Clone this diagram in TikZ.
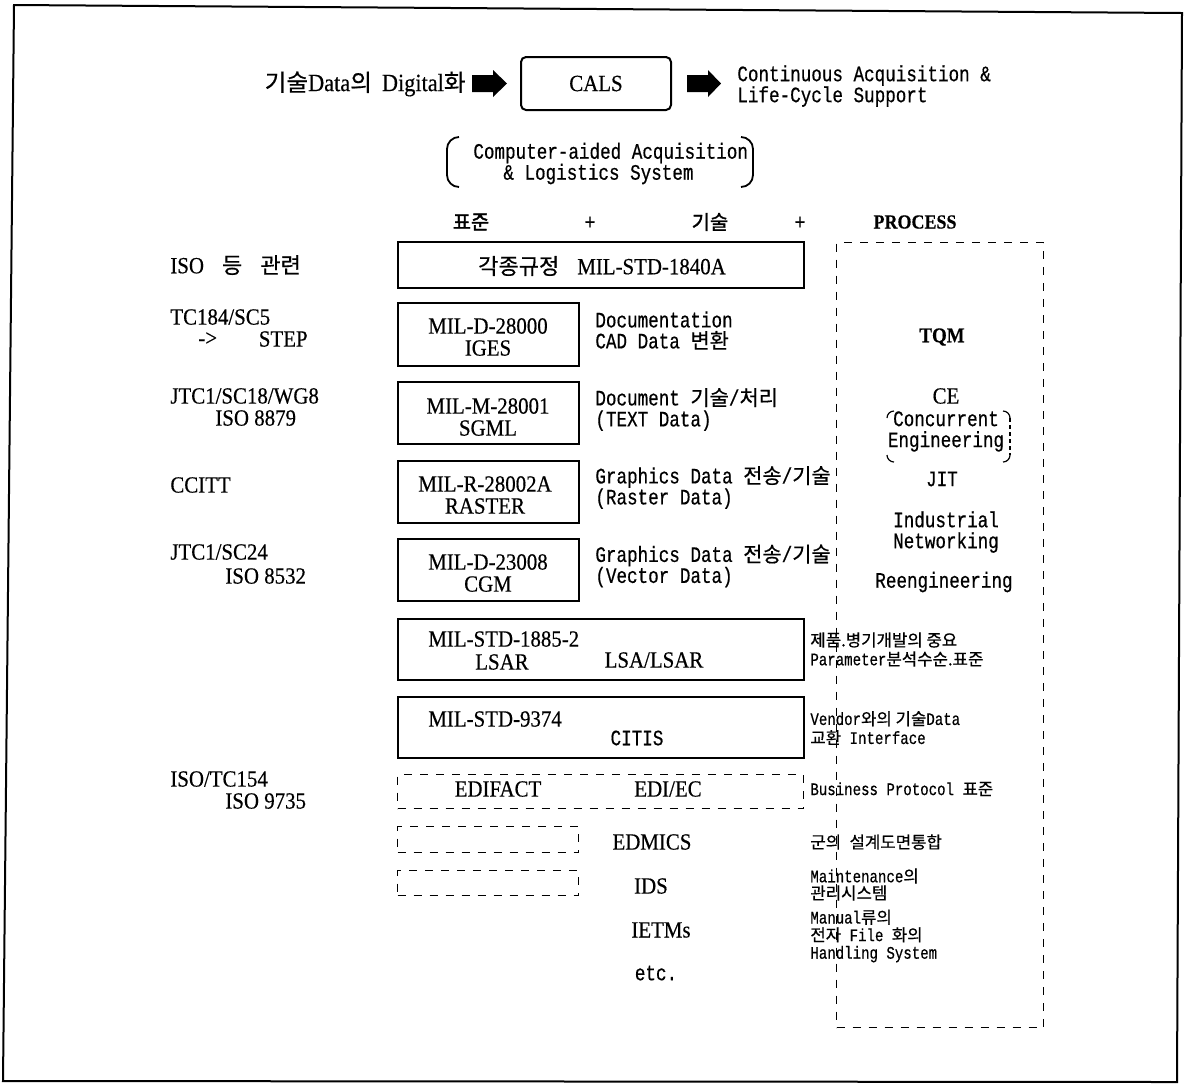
\documentclass[tikz,border=0pt]{standalone}
\usepackage{fontspec}
\setmainfont{Liberation Mono}[FakeStretch=0.8,FakeBold=0.5]
\newfontfamily\condf{Liberation Serif}[FakeStretch=0.9,FakeBold=0.4]
\newfontfamily\krfont{Noto Sans CJK KR}[Scale=0.95,FakeBold=0.6]
\newfontfamily\krbfont{Noto Sans CJK KR}[Scale=0.9,FakeBold=2]
\newcommand\krt[1]{{\krfont #1}}
\newcommand\krbt[1]{{\krbfont #1}}
\newcommand\kgap{\hspace{9pt}}
\begin{document}
\begin{tikzpicture}[x=0.5pt,y=-0.5pt,
  tw/.style={inner sep=0pt, font=\fontsize{11}{10.5}\selectfont},
  cn/.style={inner sep=0pt, font=\condf\fontsize{11.6}{11}\selectfont},
  sm/.style={inner sep=0pt, anchor=west, align=left, font=\fontsize{8.8}{9.5}\selectfont},
  framebox/.style={draw, line width=1pt, inner sep=0pt, anchor=north west},
  dbox/.style={draw, line width=0.7pt, dash pattern=on 4pt off 4pt, inner sep=0pt, anchor=north west},
  blockarrow/.style={fill=black},
  bracket/.style={line width=0.9pt}]
\useasboundingbox (0,0) rectangle (1189,1084);
% outer frame
\coordinate (f1) at (14,5);
\coordinate (f2) at (1182,13);
\coordinate (f3) at (1177,1082);
\coordinate (f4) at (3,1081);
\draw[line width=1pt] (f1) -- (f2) -- (f3) -- (f4) -- cycle;

% top row
\node[cn, anchor=east, font=\condf\fontsize{12.4}{12}\selectfont] (digital) at (466,84) {\krt{기술}Data\krt{의}\hspace{5pt}Digital\krt{화}};
\fill[blockarrow] (472,75) -- (493,75) -- (493,70) -- (507,83.5) -- (493,97) -- (493,92) -- (472,92) -- cycle;
\node[draw, line width=1pt, rounded corners=2.5pt, minimum width=75pt, minimum height=26.5pt, inner sep=0pt, cn] (cals) at (596,83.5) {CALS};
\fill[blockarrow] (687,75) -- (708,75) -- (708,70) -- (721,83.5) -- (708,97) -- (708,92) -- (687,92) -- cycle;
\node[tw, anchor=west, align=left] (cont) at (737,86) {Continuous Acquisition \&\\Life-Cycle Support};

% computer-aided
\node[tw, anchor=west] (comp1) at (473,153) {Computer-aided Acquisition};
\node[tw, anchor=west] (comp2) at (503,174) {\& Logistics System};
\draw[bracket] (459,137) to[out=180,in=90] (447,149) -- (447,175) to[out=270,in=180] (459,187);
\draw[bracket] (741,137) to[out=0,in=90] (753,149) -- (753,175) to[out=270,in=0] (741,187);

% headers
\node[inner sep=0pt, font=\fontsize{11}{11}\selectfont] (hstd) at (471,222) {\krbt{표준}};
\node[tw] (hplus1) at (590,223) {+};
\node[inner sep=0pt, font=\fontsize{11}{11}\selectfont] (htech) at (710,222) {\krbt{기술}};
\node[tw] (hplus2) at (800,223) {+};
\node[cn, font=\condf\bfseries\fontsize{10}{10}\selectfont] (hproc) at (915,222) {PROCESS};

% left column
\node[cn, anchor=west] (l1) at (170,265) {ISO\kgap\krt{등}\kgap\krt{관련}};
\node[cn, anchor=west] (l2a) at (170,317) {TC184/SC5};
\node[cn, anchor=west] (l2b) at (198,339) {->};
\node[cn, anchor=east] (l2c) at (308,339) {STEP};
\node[cn, anchor=west] (l3a) at (170,396) {JTC1/SC18/WG8};
\node[cn, anchor=west] (l3b) at (215,418) {ISO 8879};
\node[cn, anchor=west] (l4) at (170,485) {CCITT};
\node[cn, anchor=west] (l5a) at (170,552) {JTC1/SC24};
\node[cn, anchor=west] (l5b) at (225,576) {ISO 8532};
\node[cn, anchor=west] (l6a) at (170,779) {ISO/TC154};
\node[cn, anchor=west] (l6b) at (225,801) {ISO 9735};

% boxes
\node[framebox, minimum width=203pt, minimum height=23pt] (bA) at (397,241) {};
\node[cn] (tA) at (602,266) {\krt{각종규정}\kgap MIL-STD-1840A};
\node[framebox, minimum width=90.5pt, minimum height=31.5pt] (bB) at (397,302) {};
\node[cn, align=center] (tB) at (488,337) {MIL-D-28000\\IGES};
\node[framebox, minimum width=90.5pt, minimum height=31pt] (bC) at (397,381) {};
\node[cn, align=center] (tC) at (488,417) {MIL-M-28001\\SGML};
\node[framebox, minimum width=90.5pt, minimum height=31pt] (bD) at (397,460) {};
\node[cn, align=center] (tD) at (485,495) {MIL-R-28002A\\RASTER};
\node[framebox, minimum width=90.5pt, minimum height=31pt] (bE) at (397,538) {};
\node[cn, align=center] (tE) at (488,573) {MIL-D-23008\\CGM};
\node[framebox, minimum width=203pt, minimum height=30.5pt] (bF) at (397,618) {};
\node[cn, anchor=west] (tF1) at (428,639) {MIL-STD-1885-2};
\node[cn] (tF2) at (502,662) {LSAR};
\node[cn] (tF3) at (654,660) {LSA/LSAR};
\node[framebox, minimum width=203pt, minimum height=30.5pt] (bG) at (397,696) {};
\node[cn, anchor=west] (tG1) at (428,719) {MIL-STD-9374};
\node[tw] (tG2) at (637,738) {CITIS};
\node[dbox, minimum width=203pt, minimum height=17pt] (bH) at (397,774) {};
\node[cn] (tH1) at (498,789) {EDIFACT};
\node[cn] (tH2) at (668,789) {EDI/EC};
\node[dbox, minimum width=90.5pt, minimum height=13pt] (bI) at (397,826) {};
\node[dbox, minimum width=90.5pt, minimum height=12.5pt] (bJ) at (397,870) {};
\node[cn] (tI) at (652,842) {EDMICS};
\node[cn] (tJ) at (651,886) {IDS};
\node[cn] (tK) at (661,930) {IETMs};
\node[tw] (tL) at (656,973) {etc.};

% descriptions next to small boxes
\node[tw, anchor=west, align=left] (dB) at (595,330.5) {Documentation\\CAD Data \krt{변환}};
\node[tw, anchor=west, align=left] (dC) at (595,409.5) {Document \krt{기술}/\krt{처리}\\(TEXT Data)};
\node[tw, anchor=west, align=left] (dD) at (595,487.5) {Graphics Data \krt{전송}/\krt{기술}\\(Raster Data)};
\node[tw, anchor=west, align=left] (dE) at (595,566) {Graphics Data \krt{전송}/\krt{기술}\\(Vector Data)};

% right small descriptions
\node[sm] (rF) at (810,649.5) {\krt{제품.병기개발의 중요}\\Parameter\krt{분석수순.표준}};
\node[sm] (rG) at (810,728) {Vendor\krt{와의 기술}Data\\\krt{교환} Interface};
\node[sm] (rH) at (810,789) {Business Protocol \krt{표준}};
\node[sm] (rI) at (810,842) {\krt{군의}\ \krt{설계도면통합}};
\node[sm, font=\fontsize{8.8}{8.5}\selectfont] (rJ) at (810,884.5) {Maintenance\krt{의}\\\krt{관리시스템}};
\node[sm, font=\fontsize{8.8}{8.8}\selectfont] (rK) at (810,936) {Manual\krt{류의}\\\krt{전자} File \krt{화의}\\Handling System};

% PROCESS box
\node[dbox, minimum width=103.5pt, minimum height=392.5pt] (bP) at (836,242) {};
\node[cn, font=\condf\bfseries\fontsize{10.5}{10.5}\selectfont] (pTQM) at (942,337) {TQM};
\node[cn] (pCE) at (946,396) {CE};
\node[tw, align=center] (pCon) at (946,431.5) {Concurrent\\Engineering};
\draw[line width=0.6pt] (894,411) to[out=180,in=90] (887,418);
\draw[line width=0.6pt] (887,455) to[out=270,in=180] (894,462);
\draw[line width=0.6pt] (1003,411) to[out=0,in=90] (1010,418);
\draw[line width=0.6pt, dash pattern=on 2pt off 1.5pt] (1010,418) -- (1010,455);
\draw[line width=0.6pt] (1010,455) to[out=270,in=0] (1003,462);
\node[tw] (pJIT) at (942,479) {JIT};
\node[tw, align=center] (pInd) at (946,532) {Industrial\\Networking};
\node[tw] (pRe) at (944,582) {Reengineering};
\end{tikzpicture}
\end{document}
